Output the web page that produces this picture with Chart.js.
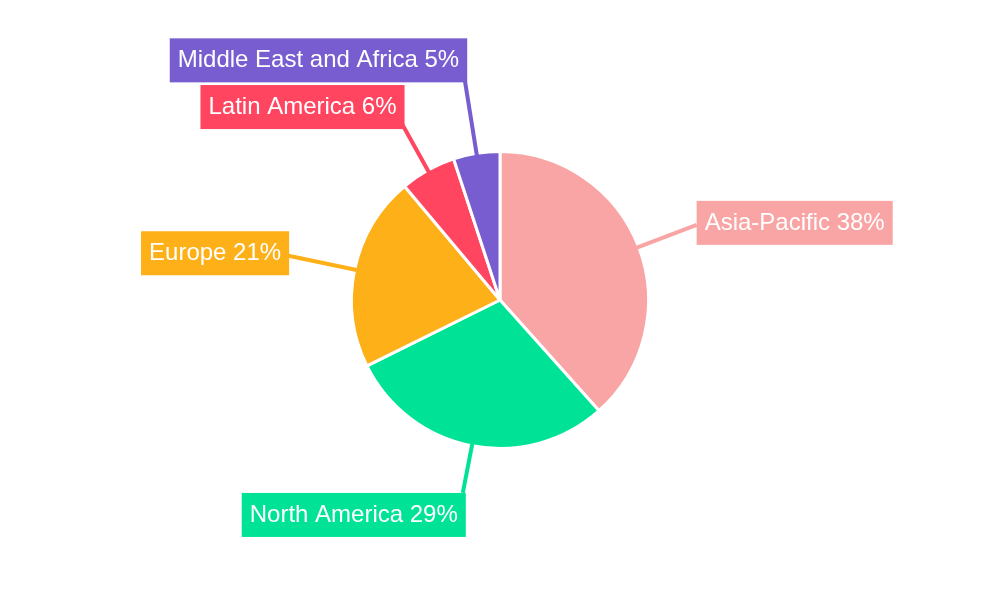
<!DOCTYPE html>
<html>
<head>
<meta charset="utf-8">
<script src="https://cdn.jsdelivr.net/npm/chart.js@4"></script>
<style>
  html, body { margin: 0; padding: 0; background: #fff; }
  #wrap { width: 1000px; height: 600px; }
</style>
</head>
<body>
<div id="wrap"><canvas id="pie"></canvas></div>
<script>
const regions = ['Asia-Pacific', 'North America', 'Europe', 'Latin America', 'Middle East and Africa'];
const shares = [38, 29, 21, 6, 5];
const colors = ['#F9A5A5', '#00E396', '#FEB019', '#FF4560', '#775DD0'];
const leaderLengths = [62, 48, 70, 54, 78];

// draws the outside labels with leader lines
const calloutPlugin = {
    id: 'callouts',
    afterDatasetsDraw(chart) {
        const ctx = chart.ctx;
        const meta = chart.getDatasetMeta(0);
        ctx.save();
        ctx.font = '24px "Liberation Sans", Arial, sans-serif';
        ctx.textBaseline = 'middle';
        meta.data.forEach((arc, i) => {
            const mid = (arc.startAngle + arc.endAngle) / 2;
            const r = arc.outerRadius;
            const dx = Math.cos(mid), dy = Math.sin(mid);
            const sx = arc.x + dx * (r - 2), sy = arc.y + dy * (r - 2);
            const ex = arc.x + dx * (r + leaderLengths[i]), ey = arc.y + dy * (r + leaderLengths[i]);
            ctx.strokeStyle = colors[i];
            ctx.lineWidth = 4;
            ctx.beginPath();
            ctx.moveTo(sx, sy);
            ctx.lineTo(ex, ey);
            ctx.stroke();

            const text = regions[i] + ' ' + shares[i] + '%';
            const w = ctx.measureText(text).width + 16;
            const h = 44;
            let bx = dx >= 0 ? ex : ex - w + 3;
            let by;
            if (Math.abs(dy) > Math.abs(dx)) {
                by = dy > 0 ? ey : ey - h + 6;
            } else {
                by = ey - h / 2 - 2;
            }
            ctx.fillStyle = colors[i];
            ctx.fillRect(bx, by, w, h);
            ctx.fillStyle = '#fff';
            ctx.fillText(text, bx + 8, by + h / 2);
        });
        ctx.restore();
    }
};

const ctx = document.getElementById('pie').getContext('2d');
new Chart(ctx, {
    type: 'pie',
    data: {
        labels: regions,
        datasets: [{
            data: shares,
            backgroundColor: colors,
            borderColor: '#fff',
            borderWidth: 3
        }]
    },
    options: {
        responsive: true,
        maintainAspectRatio: false,
        animation: false,
        layout: { padding: { top: 150, bottom: 150 } },
        plugins: {
            legend: { display: false },
            tooltip: { enabled: false }
        }
    },
    plugins: [calloutPlugin]
});
</script>
</body>
</html>
